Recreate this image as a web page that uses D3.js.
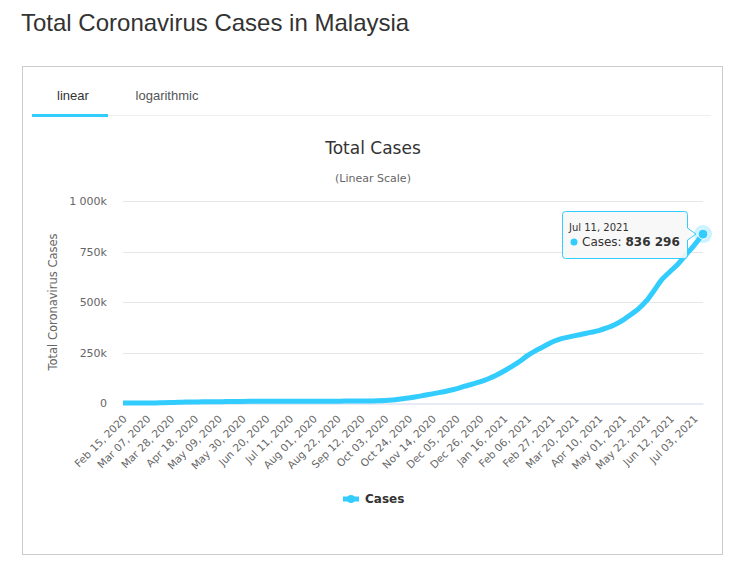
<!DOCTYPE html>
<html>
<head>
<meta charset="utf-8">
<script src="https://cdn.jsdelivr.net/npm/d3@7"></script>
<style>
  body { margin: 0; background: #fff; }
  svg { display: block; }
</style>
</head>
<body>
<svg id="page" width="735" height="572"></svg>
<script>
// weekly totals (last point is the tooltip value)
var dates = [
  "2020-02-15","2020-02-22","2020-02-29","2020-03-07","2020-03-14","2020-03-21","2020-03-28",
  "2020-04-04","2020-04-11","2020-04-18","2020-04-25","2020-05-02","2020-05-09","2020-05-16",
  "2020-05-23","2020-05-30","2020-06-06","2020-06-13","2020-06-20","2020-06-27","2020-07-04",
  "2020-07-11","2020-07-18","2020-07-25","2020-08-01","2020-08-08","2020-08-15","2020-08-22",
  "2020-08-29","2020-09-05","2020-09-12","2020-09-19","2020-09-26","2020-10-03","2020-10-10",
  "2020-10-17","2020-10-24","2020-10-31","2020-11-07","2020-11-14","2020-11-21","2020-11-28",
  "2020-12-05","2020-12-12","2020-12-19","2020-12-26","2021-01-02","2021-01-09","2021-01-16",
  "2021-01-23","2021-01-30","2021-02-06","2021-02-13","2021-02-20","2021-02-27","2021-03-06",
  "2021-03-13","2021-03-20","2021-03-27","2021-04-03","2021-04-10","2021-04-17","2021-04-24",
  "2021-05-01","2021-05-08","2021-05-15","2021-05-22","2021-05-29","2021-06-05","2021-06-12",
  "2021-06-19","2021-06-26","2021-07-03","2021-07-11"
];
var cases = [
  22, 22, 25, 99, 238, 1183, 2320,
  3483, 4346, 5305, 5742, 6176, 6656, 6872,
  7185, 7732, 8303, 8445, 8535, 8616, 8668,
  8718, 8779, 8904, 8976, 9038, 9175, 9240,
  9334, 9397, 9810, 10052, 10769, 12088, 15096,
  19627, 24514, 30889, 38054, 45095, 52638, 60752,
  70236, 82246, 92705, 104214, 118843, 135992, 157065,
  180455, 205369, 234634, 258306, 278421, 299885, 315433,
  324813, 333787, 341944, 349610, 358138, 371527, 387392,
  408913, 436944, 466022, 505115, 558534, 612666, 650983,
  688000, 734048, 779000, 836296
];
var xTickDates = [
  "2020-02-15","2020-03-07","2020-03-28","2020-04-18","2020-05-09","2020-05-30","2020-06-20",
  "2020-07-11","2020-08-01","2020-08-22","2020-09-12","2020-10-03","2020-10-24","2020-11-14",
  "2020-12-05","2020-12-26","2021-01-16","2021-02-06","2021-02-27","2021-03-20","2021-04-10",
  "2021-05-01","2021-05-22","2021-06-12","2021-07-03"
];
var yTicks = [0, 250000, 500000, 750000, 1000000];
var yTickLabels = ["0", "250k", "500k", "750k", "1 000k"];

var parseDate = d3.timeParse("%Y-%m-%d"),
    fmtTick = d3.timeFormat("%b %d, %Y");

var data = dates.map(function(d, i) { return {date: parseDate(d), value: cases[i]}; });
var last = data[data.length - 1];

var svg = d3.select("#page"),
    chartFont = "'DejaVu Sans', Verdana, sans-serif",
    pageFont = "'Liberation Sans', Arial, sans-serif",
    blue = "#33ccff";

// page title
svg.append("text")
    .attr("x", 21).attr("y", 31)
    .style("font-family", pageFont).style("font-size", "24px").style("fill", "#333")
    .text("Total Coronavirus Cases in Malaysia");

// card + tabs
svg.append("rect")
    .attr("x", 22.5).attr("y", 66.5).attr("width", 700).attr("height", 488)
    .style("fill", "#fff").style("stroke", "#ccc");

svg.append("line")
    .attr("x1", 32).attr("x2", 711).attr("y1", 115.5).attr("y2", 115.5)
    .style("stroke", "#eee");
svg.append("rect")
    .attr("x", 32).attr("y", 114).attr("width", 76).attr("height", 3)
    .style("fill", blue);
svg.append("text").attr("x", 73).attr("y", 100).attr("text-anchor", "middle")
    .style("font-family", pageFont).style("font-size", "13px").style("fill", "#333")
    .text("linear");
svg.append("text").attr("x", 167).attr("y", 100).attr("text-anchor", "middle")
    .style("font-family", pageFont).style("font-size", "13px").style("fill", "#555")
    .text("logarithmic");

// chart titles
svg.append("text").attr("x", 373).attr("y", 154).attr("text-anchor", "middle")
    .style("font-family", chartFont).style("font-size", "17px").style("fill", "#333")
    .text("Total Cases");
svg.append("text").attr("x", 373).attr("y", 182).attr("text-anchor", "middle")
    .style("font-family", chartFont).style("font-size", "11px").style("fill", "#666")
    .text("(Linear Scale)");

var margin = {left: 123, right: 703, top: 201, bottom: 403};

var x = d3.scaleTime()
    .domain([data[0].date, last.date])
    .range([margin.left, margin.right]);
var y = d3.scaleLinear()
    .domain([0, 1000000])
    .range([margin.bottom, margin.top]);

// gridlines
svg.append("g").selectAll("line")
    .data(yTicks.slice(1))
    .enter().append("line")
      .attr("x1", margin.left).attr("x2", margin.right)
      .attr("y1", function(d) { return Math.round(y(d)) + 0.5; })
      .attr("y2", function(d) { return Math.round(y(d)) + 0.5; })
      .style("stroke", "#e6e6e6");

// y axis labels
svg.append("g").selectAll("text")
    .data(yTicks)
    .enter().append("text")
      .attr("x", 107)
      .attr("y", function(d) { return y(d) + 4; })
      .attr("text-anchor", "end")
      .style("font-family", chartFont).style("font-size", "11px").style("fill", "#666")
      .text(function(d, i) { return yTickLabels[i]; });

svg.append("text")
    .attr("transform", "translate(57,302) rotate(-90)")
    .attr("text-anchor", "middle")
    .style("font-family", chartFont).style("font-size", "11.5px").style("fill", "#666")
    .text("Total Coronavirus Cases");

// x axis
var xAxis = svg.append("g")
    .attr("transform", "translate(0," + (margin.bottom + 0.5) + ")")
    .call(d3.axisBottom(x)
      .tickValues(xTickDates.map(parseDate))
      .tickFormat(fmtTick)
      .tickSize(0)
      .tickPadding(0));
xAxis.select(".domain").style("stroke", "#ccd6eb");
xAxis.selectAll("text")
    .style("font-family", chartFont).style("font-size", "10.5px").style("fill", "#666")
    .style("text-anchor", "end")
    .attr("dy", null)
    .attr("y", 0)
    .attr("transform", "translate(4,16) rotate(-45)");

// series line
var line = d3.line()
    .x(function(d) { return x(d.date); })
    .y(function(d) { return y(d.value); })
    .curve(d3.curveMonotoneX);

svg.append("path")
    .datum(data)
    .attr("d", line)
    .style("fill", "none")
    .style("stroke", blue)
    .style("stroke-width", 5)
    .style("stroke-linejoin", "round")
    .style("stroke-linecap", "butt");

// hovered point
svg.append("circle")
    .attr("cx", x(last.date)).attr("cy", y(last.value)).attr("r", 9)
    .style("fill", blue).style("opacity", 0.25);
svg.append("circle")
    .attr("cx", x(last.date)).attr("cy", y(last.value)).attr("r", 5)
    .style("fill", blue).style("stroke", "#fff").style("stroke-width", 1);

// tooltip
var tip = svg.append("g");
var px = x(last.date), py = y(last.value);
var bx = 562.5, by = 211.5, bw = 125, bh = 47;
tip.append("path")
    .attr("d", "M" + (bx + 3) + "," + by +
      " H" + (bx + bw - 3) + " Q" + (bx + bw) + "," + by + " " + (bx + bw) + "," + (by + 3) +
      " V" + (py - 6) + " L" + (px - 7) + "," + py + " L" + (bx + bw) + "," + (py + 6) +
      " V" + (by + bh - 3) + " Q" + (bx + bw) + "," + (by + bh) + " " + (bx + bw - 3) + "," + (by + bh) +
      " H" + (bx + 3) + " Q" + bx + "," + (by + bh) + " " + bx + "," + (by + bh - 3) +
      " V" + (by + 3) + " Q" + bx + "," + by + " " + (bx + 3) + "," + by + " Z")
    .style("fill", "rgba(247,247,247,0.9)")
    .style("stroke", blue)
    .style("stroke-width", 1);
tip.append("text").attr("x", 569).attr("y", 231)
    .style("font-family", chartFont).style("font-size", "10px").style("fill", "#333")
    .text(d3.timeFormat("%b %d, %Y")(last.date));
tip.append("circle").attr("cx", 574).attr("cy", 242).attr("r", 3.5).style("fill", blue);
var vt = tip.append("text").attr("x", 582).attr("y", 246)
    .style("font-family", chartFont).style("font-size", "12px").style("fill", "#333");
vt.append("tspan").text("Cases: ");
vt.append("tspan").style("font-weight", "bold")
    .text(d3.format(",")(last.value).replace(/,/g, " "));

// legend
var lg = svg.append("g").attr("transform", "translate(343,499)");
lg.append("line").attr("x1", 0).attr("x2", 16)
    .style("stroke", blue).style("stroke-width", 5);
lg.append("circle").attr("cx", 8).attr("r", 4).style("fill", blue);
lg.append("text").attr("x", 22).attr("y", 4)
    .style("font-family", chartFont).style("font-size", "12px")
    .style("font-weight", "bold").style("fill", "#333")
    .text("Cases");
</script>
</body>
</html>
